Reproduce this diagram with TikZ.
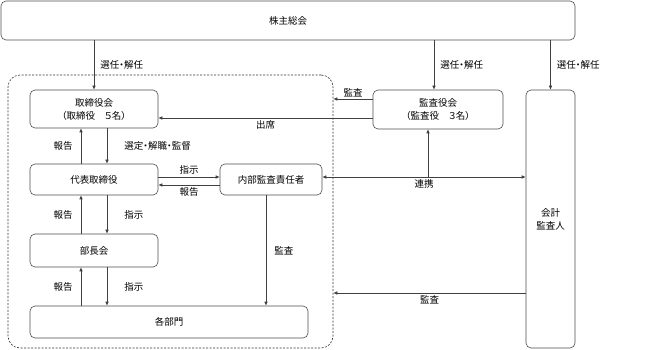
\documentclass[tikz,border=0pt]{standalone}
\usepackage{fontspec}
\setmainfont[RawFeature=+palt]{Noto Sans CJK JP}
\usetikzlibrary{arrows.meta,positioning}

\begin{document}
\begin{tikzpicture}[
    x=1pt, y=-1pt,
    box/.style={draw=black!70, rounded corners=5pt, line width=0.6pt, align=center, inner sep=0pt, font=\fontsize{9.5}{13}\selectfont},
    group/.style={draw=black!80, dash pattern=on 2pt off 1.5pt, rounded corners=12pt, line width=0.6pt, inner sep=0pt},
    arr/.style={-{Latex[length=4pt,width=3.5pt]}, black!75, line width=0.6pt},
    dbl/.style={{Latex[length=4pt,width=3.5pt]}-{Latex[length=4pt,width=3.5pt]}, black!75, line width=0.6pt},
    txt/.style={font=\fontsize{9.5}{11}\selectfont, text=black, inner sep=2pt}
]
\useasboundingbox (0,0) rectangle (646,350);

% ============================================================
% Boxes
% ============================================================

% General meeting
\node[box, minimum width=574pt, minimum height=39pt] (soukai) at (288,20.5) {株主総会};

% Company (dashed group)
\node[group, minimum width=325pt, minimum height=273pt] (kaisha) at (170.5,211.5) {};

% Boards
\node[box, minimum width=128pt, minimum height=38pt] (torishimari) at (94,109) {取締役会\\（取締役　５名）};
\node[box, minimum width=130pt, minimum height=39pt] (kansa) at (438,109.5) {監査役会\\（監査役　３名）};
\node[box, minimum width=49pt, minimum height=258pt] (kaikei) at (550.5,219) {会計\\監査人};

% Line organisation
\node[box, minimum width=128pt, minimum height=31pt] (daihyo) at (94,179.5) {代表取締役};
\node[box, minimum width=102pt, minimum height=31pt] (naibu) at (271,179.5) {内部監査責任者};
\node[box, minimum width=128pt, minimum height=33pt] (bucho) at (94,250.5) {部長会};
\node[box, minimum width=278pt, minimum height=32pt] (kakubu) at (169,322) {各部門};

% ============================================================
% Connectors
% ============================================================

% Appointment / dismissal
\coordinate (kansaT) at ([xshift=-4pt]kansa.north);
\draw[arr] (soukai.south -| torishimari.north) -- node[txt, right=4pt] {選任・解任} (torishimari.north);
\draw[arr] (soukai.south -| kansaT) -- node[txt, right=4pt] {選任・解任} (kansaT);
\draw[arr] (soukai.south -| kaikei.north) -- node[txt, right=4pt] {選任・解任} (kaikei.north);

% Audit board
\coordinate (kansaL) at ([yshift=10.5pt]kansa.west);
\draw[arr] (kansaL) -- node[txt, above] {監査} (kansaL -| kaisha.east);
\coordinate (shusseki) at ([yshift=-8.5pt]kansa.west);
\draw[arr] (shusseki) -- node[txt, below] {出席} (shusseki -| torishimari.east);

% Board <-> representative director
\coordinate (tL) at ([xshift=-13pt]torishimari.south);
\coordinate (tR) at ([xshift=13pt]torishimari.south);
\draw[arr] (tR) -- node[txt, right=15pt] {選定・解職・監督} (tR |- daihyo.north);
\draw[arr] (tL |- daihyo.north) -- node[txt, left=6pt] {報告} (tL);

% Representative director <-> managers
\coordinate (dL) at ([xshift=-13pt]daihyo.south);
\coordinate (dR) at ([xshift=13pt]daihyo.south);
\draw[arr] (dR) -- node[txt, right=15pt] {指示} (dR |- bucho.north);
\draw[arr] (dL |- bucho.north) -- node[txt, left=6pt] {報告} (dL);

% Managers <-> departments
\coordinate (bL) at ([xshift=-13pt]bucho.south);
\coordinate (bR) at ([xshift=13pt]bucho.south);
\draw[arr] (bR) -- node[txt, right=15pt] {指示} (bR |- kakubu.north);
\draw[arr] (bL |- kakubu.north) -- node[txt, left=6pt] {報告} (bL);

% Representative director <-> internal audit
\coordinate (shiji) at ([yshift=2.5pt]daihyo.east);
\draw[arr] (shiji) -- node[txt, above] {指示} (shiji -| naibu.west);
\coordinate (houkoku) at ([yshift=-5.5pt]naibu.west);
\draw[arr] (houkoku) -- node[txt, below] {報告} (houkoku -| daihyo.east);

% Internal audit -> departments
\coordinate (naibuB) at ([xshift=-5pt]naibu.south);
\draw[arr] (naibuB) -- node[txt, right=6pt] {監査} (naibuB |- kakubu.north);

% Cooperation
\coordinate (renkei) at ([yshift=2.5pt]naibu.east);
\draw[dbl] (renkei) -- node[txt, below] {連携} (renkei -| kaikei.west);
\coordinate (kansaB) at ([xshift=-10pt]kansa.south);
\draw[arr] (kansaB |- renkei) -- (kansaB);

% Accounting auditor
\coordinate (kaikeiL) at ([yshift=-74pt]kaikei.west);
\draw[arr] (kaikeiL) -- node[txt, below] {監査} (kaikeiL -| kaisha.east);
\end{tikzpicture}
\end{document}
